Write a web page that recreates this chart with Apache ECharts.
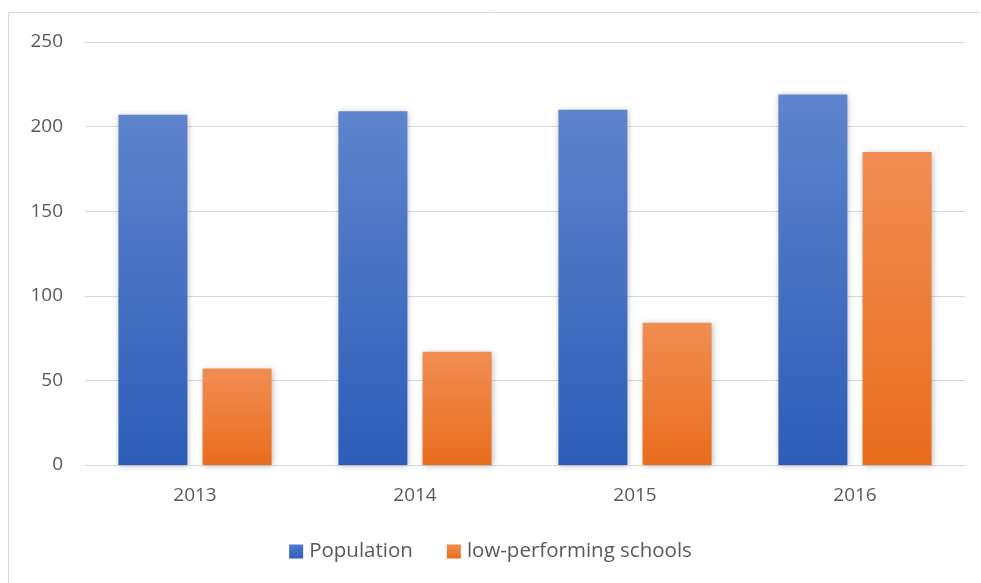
<!DOCTYPE html>
<html><head><meta charset="utf-8">
<script src="https://cdn.jsdelivr.net/npm/echarts@6/dist/echarts.min.js"></script>
<style>html,body{margin:0;padding:0;background:#fff}#c{width:981px;height:583px}</style>
</head><body><div id="c"></div>
<script>
const categories = ['2013', '2014', '2015', '2016'];
const population = [207, 209, 210, 219];
const lowPerforming = [57, 67, 84, 185];
const yTicks = [0, 50, 100, 150, 200, 250];

const chart = echarts.init(document.getElementById('c'));
const font = "'Open Sans', 'Noto Sans', sans-serif";
function grad(top, bottom) {
  return new echarts.graphic.LinearGradient(0, 0, 0, 1, [
    {offset: 0, color: top}, {offset: 1, color: bottom}
  ]);
}
chart.setOption({
  animation: false,
  backgroundColor: '#fff',
  graphic: [
    {type: 'line', shape: {x1: 8.5, y1: 12.5, x2: 980, y2: 12.5}, style: {stroke: '#d9d9d9', lineWidth: 1}},
    {type: 'line', shape: {x1: 8.5, y1: 12.5, x2: 8.5, y2: 583}, style: {stroke: '#d9d9d9', lineWidth: 1}}
  ],
  grid: {left: 85, right: 16, top: 42, bottom: 118},
  legend: {
    top: 536, left: 'center',
    itemWidth: 14, itemHeight: 14, itemGap: 34,
    icon: 'rect',
    textStyle: {fontFamily: font, fontSize: 20.5, color: '#595959', padding: [0, 0, 0, 1]},
    data: [
      {name: 'Population', itemStyle: {color: grad('#4f7bd0', '#2f5fba')}},
      {name: 'low-performing schools', itemStyle: {color: grad('#f28b4c', '#e86d1c')}}
    ]
  },
  xAxis: {
    type: 'category', data: categories,
    axisLine: {lineStyle: {color: '#d9d9d9', width: 1}},
    axisTick: {show: false},
    axisLabel: {fontFamily: font, fontSize: 19, color: '#595959', margin: 21}
  },
  yAxis: {
    type: 'value', min: yTicks[0], max: yTicks[yTicks.length - 1], interval: 50,
    axisLine: {show: false}, axisTick: {show: false},
    splitLine: {lineStyle: {color: '#d9d9d9', width: 1}},
    axisLabel: {fontFamily: font, fontSize: 19, color: '#595959', margin: 22}
  },
  series: [
    {
      name: 'Population', type: 'bar', data: population,
      barWidth: 69, barGap: '22%',
      itemStyle: {color: grad('#5d84cc', '#2d5db8'), shadowColor: 'rgba(0,0,0,0.25)', shadowBlur: 6, shadowOffsetX: 1, shadowOffsetY: 1}
    },
    {
      name: 'low-performing schools', type: 'bar', data: lowPerforming,
      barWidth: 69,
      itemStyle: {color: grad('#f18d53', '#e86d1c'), shadowColor: 'rgba(0,0,0,0.25)', shadowBlur: 6, shadowOffsetX: 1, shadowOffsetY: 1}
    }
  ]
});
</script></body></html>
